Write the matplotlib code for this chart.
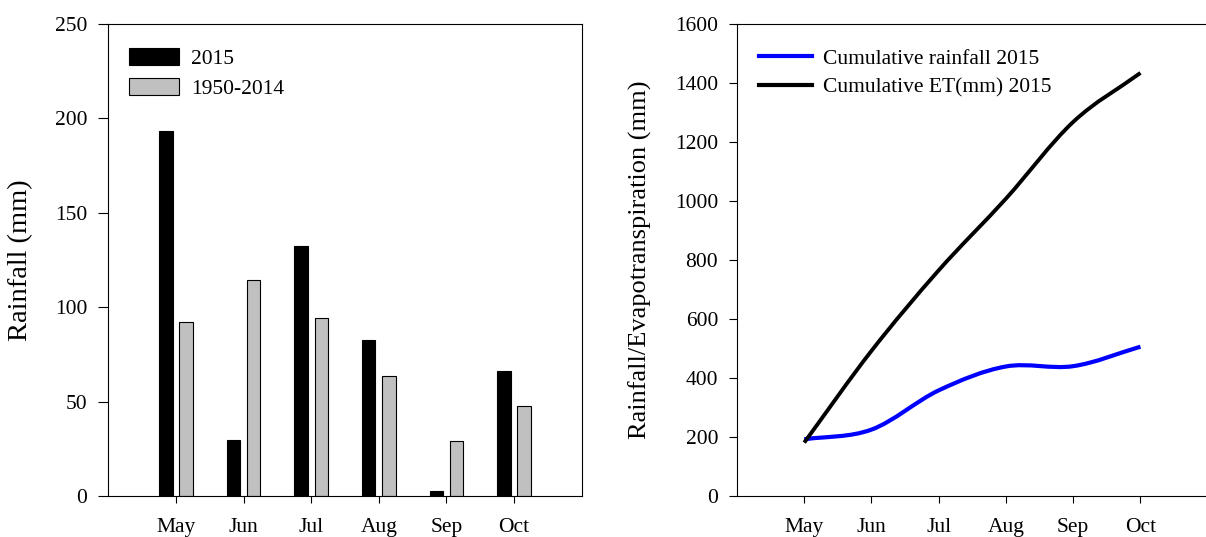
"""
Monthly rainfall (2015 vs. 1950-2014 mean) and cumulative rainfall / ET in 2015.
"""

import matplotlib

matplotlib.use("Agg")
import matplotlib.pyplot as plt
import numpy as np
from matplotlib.lines import Line2D
from matplotlib.patches import PathPatch
from matplotlib.path import Path


MONTHS = ["May", "Jun", "Jul", "Aug", "Sep", "Oct"]

RAIN_2015 = [193.5, 29.5, 132.5, 82.5, 2.4, 66]
RAIN_1950_2014 = [92.3, 114.6, 94.5, 63.8, 29.2, 47.7]

CUM_RAIN_2015 = [192, 225, 358, 439, 440, 506]
CUM_ET_2015 = [181, 492, 765, 1008, 1268, 1434]


plt.rcParams["font.family"] = ["Liberation Serif", "DejaVu Serif"]
plt.rcParams["font.size"] = 15.5


def smooth_path(xs, ys):
    """Catmull-Rom curve through the points, as cubic Bezier segments."""
    xs = np.asarray(xs, dtype=float)
    ys = np.asarray(ys, dtype=float)
    points = np.column_stack([xs, ys])

    tangents = np.zeros_like(points)
    tangents[1:-1] = (points[2:] - points[:-2]) / 2
    tangents[0] = points[1] - points[0]
    tangents[-1] = points[-1] - points[-2]

    vertices = [points[0]]
    codes = [Path.MOVETO]

    for index in range(len(points) - 1):
        vertices.append(points[index] + tangents[index] / 3)
        vertices.append(points[index + 1] - tangents[index + 1] / 3)
        vertices.append(points[index + 1])
        codes += [Path.CURVE4] * 3

    return Path(vertices, codes)


def style_axis(axis, ytick_length):
    axis.set_xlim(-1, 6)
    axis.set_xticks(range(len(MONTHS)))
    axis.set_xticklabels(MONTHS)

    axis.tick_params(
        axis="x",
        direction="out",
        length=5,
        width=0.8,
        pad=11,
    )
    axis.tick_params(
        axis="y",
        direction="out",
        length=ytick_length,
        width=0.8,
        pad=8,
    )

    for spine in axis.spines.values():
        spine.set_linewidth(0.8)


figure = plt.figure(figsize=(12.06, 5.37), dpi=100)

# Monthly rainfall bars
axis = figure.add_axes([0.0898, 0.0764, 0.3925, 0.879])

positions = np.arange(len(MONTHS))

axis.bar(
    positions - 0.15,
    RAIN_2015,
    width=0.2,
    color="black",
    edgecolor="black",
    linewidth=0.8,
    label="2015",
)
axis.bar(
    positions + 0.15,
    RAIN_1950_2014,
    width=0.2,
    color="#c0c0c0",
    edgecolor="black",
    linewidth=0.8,
    label="1950-2014",
)

style_axis(axis, 7)
axis.set_ylim(0, 250)
axis.set_yticks([0, 50, 100, 150, 200, 250])

axis.set_ylabel("Rainfall (mm)", fontsize=20.5)
axis.yaxis.set_label_coords(-0.159, 0.5)

axis.legend(
    loc="upper left",
    bbox_to_anchor=(0.044, 0.948),
    frameon=False,
    borderpad=0,
    borderaxespad=0,
    handlelength=2.33,
    handleheight=0.79,
    handletextpad=0.56,
    labelspacing=0.42,
    fontsize=15.5,
)

# Cumulative rainfall and ET
axis = figure.add_axes([0.6111, 0.0764, 0.392, 0.879])

axis.add_patch(
    PathPatch(
        smooth_path(positions, CUM_RAIN_2015),
        facecolor="none",
        edgecolor="#0000ff",
        linewidth=3,
    )
)
axis.add_patch(
    PathPatch(
        smooth_path(positions, CUM_ET_2015),
        facecolor="none",
        edgecolor="black",
        linewidth=2.8,
    )
)

style_axis(axis, 5.5)
axis.set_xlim(-1, 6.03)
axis.set_ylim(0, 1600)
axis.set_yticks(range(0, 1601, 200))

axis.set_ylabel("Rainfall/Evapotranspiration (mm)", fontsize=19)
axis.yaxis.set_label_coords(-0.179, 0.5)

handles = [
    Line2D([], [], color="#0000ff", linewidth=3),
    Line2D([], [], color="black", linewidth=3),
]
axis.legend(
    handles,
    ["Cumulative rainfall 2015", "Cumulative ET(mm) 2015"],
    loc="upper left",
    bbox_to_anchor=(0.047, 0.948),
    frameon=False,
    borderpad=0,
    borderaxespad=0,
    handlelength=2.47,
    handletextpad=0.51,
    labelspacing=0.42,
    fontsize=15.5,
)

figure.savefig("out.png", dpi=100)
